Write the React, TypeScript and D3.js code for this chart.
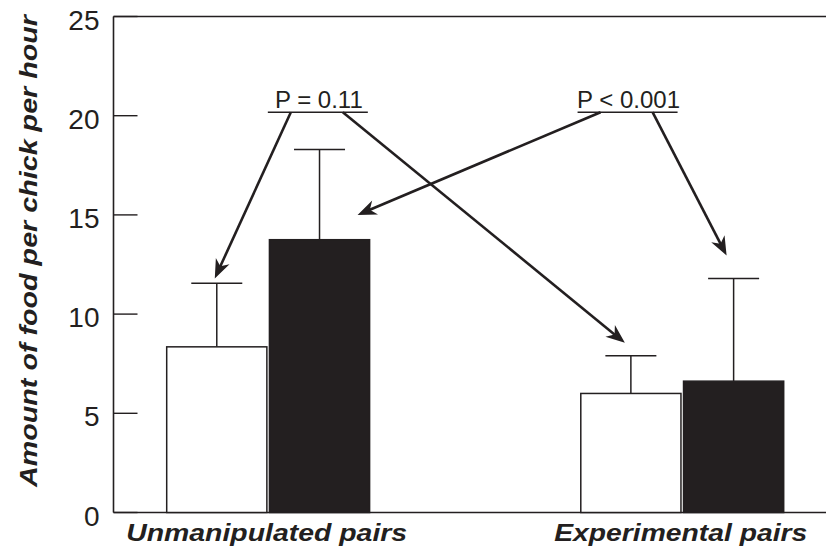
import React from 'react';
import { scaleBand, scaleLinear } from 'd3';

// pair types on the x axis, two bars per pair type
const groups = ['Unmanipulated pairs', 'Experimental pairs'];
const series = ['open', 'filled'];
// mean food per chick per hour
const means = [
    [8.35, 13.75],
    [6.0, 6.62],
];
// upper error bar ends
const errTops = [
    [11.55, 18.3],
    [7.9, 11.8],
];
const yTicks = [0, 5, 10, 15, 20, 25];

// significance labels, with the bars each arrow points at
// target value is in data units, dx is a fraction of the bar width
const annotations = [
    {
        label: 'P = 0.11',
        arrows: [
            { g: 0, s: 0, value: 11.8, dx: -0.02 },
            { g: 1, s: 0, value: 8.55, dx: -0.06 },
        ],
    },
    {
        label: 'P < 0.001',
        arrows: [
            { g: 0, s: 1, value: 15.0, dx: 0.38 },
            { g: 1, s: 1, value: 12.95, dx: -0.07 },
        ],
    },
];
const annValue = 20.0; // level of the underlines

const W = 826;
const H = 554;
const ink = '#231f20';
const font = '"Liberation Sans", Arial, Helvetica, sans-serif';

function Arrow({ x1, y1, x2, y2 }) {
    const a = Math.atan2(y2 - y1, x2 - x1) * 180 / Math.PI;
    const L = 19;
    const hw = 7.5;
    return (
        <g>
            <line
                x1={x1}
                y1={y1}
                x2={x2 - L * 0.6 * Math.cos(a * Math.PI / 180)}
                y2={y2 - L * 0.6 * Math.sin(a * Math.PI / 180)}
                stroke={ink}
                strokeWidth={2.6}
            />
            <path
                transform={`translate(${x2},${y2}) rotate(${a})`}
                d={`M0,0 L${-L},${-hw} L${-L * 0.7},0 L${-L},${hw} Z`}
                fill={ink}
            />
        </g>
    );
}

export default function App() {
    const axisX = 113.5;
    const y = scaleLinear().domain([0, 25]).range([512.5, 16.5]);

    const x = scaleBand()
        .domain(groups)
        .range([166.7, 783.7])
        .paddingInner(0.51);
    const xs = scaleBand()
        .domain(series)
        .range([0, x.bandwidth()])
        .paddingInner(0.025);

    const barX = (g, s) => x(groups[g]) + xs(series[s]);
    const barMid = (g, s) => barX(g, s) + xs.bandwidth() / 2;
    const capHalf = 25.5;

    // underline spans for each annotation
    const annCenters = [
        (barMid(0, 0) + barMid(1, 0)) / 2 - 106,
        (barMid(0, 1) + barMid(1, 1)) / 2 + 101,
    ];

    return (
        <svg
            width={W}
            height={H}
            style={{ position: 'absolute', left: 0, top: 0, background: '#fff' }}
            fontFamily={font}
        >
            {/* frame: left axis, top line, baseline */}
            <line x1={axisX} y1={y(25)} x2={W} y2={y(25)} stroke={ink} strokeWidth={1.6} />
            <line x1={axisX} y1={y(0)} x2={W} y2={y(0)} stroke={ink} strokeWidth={1.6} />
            <line x1={axisX} y1={y(25)} x2={axisX} y2={y(0)} stroke={ink} strokeWidth={1.6} />

            {yTicks.map(t => (
                <g key={t}>
                    <line x1={axisX} x2={axisX + 24} y1={y(t)} y2={y(t)} stroke={ink} strokeWidth={1.4} />
                    <text
                        x={99.5}
                        y={y(t) + 13}
                        textAnchor="end"
                        fontSize={28}
                        fill={ink}
                    >
                        {t}
                    </text>
                </g>
            ))}

            {/* error bars */}
            {means.map((row, g) => row.map((m, s) => (
                <g key={`e${g}${s}`}>
                    <line
                        x1={barMid(g, s)}
                        x2={barMid(g, s)}
                        y1={y(m)}
                        y2={y(errTops[g][s])}
                        stroke={ink}
                        strokeWidth={1.5}
                    />
                    <line
                        x1={barMid(g, s) - capHalf}
                        x2={barMid(g, s) + capHalf}
                        y1={y(errTops[g][s])}
                        y2={y(errTops[g][s])}
                        stroke={ink}
                        strokeWidth={1.5}
                    />
                </g>
            )))}

            {/* bars */}
            {means.map((row, g) => row.map((m, s) => (
                <rect
                    key={`b${g}${s}`}
                    x={barX(g, s)}
                    y={y(m)}
                    width={xs.bandwidth()}
                    height={y(0) - y(m)}
                    fill={s === 0 ? '#fff' : ink}
                    stroke={ink}
                    strokeWidth={1.5}
                />
            )))}

            {/* significance annotations */}
            {annotations.map((a, i) => {
                const cx = annCenters[i];
                const yy = y(annValue) - 3.5;
                const half = 50;
                return (
                    <g key={a.label}>
                        <text
                            x={cx + 1}
                            y={yy - 4.5}
                            textAnchor="middle"
                            fontSize={24}
                            fill={ink}
                        >
                            {a.label}
                        </text>
                        <line x1={cx - half} x2={cx + half} y1={yy} y2={yy} stroke={ink} strokeWidth={1.5} />
                        {a.arrows.map((t, j) => (
                            <Arrow
                                key={j}
                                x1={j === 0 ? cx - 27 : cx + 25}
                                y1={yy}
                                x2={barMid(t.g, t.s) + t.dx * xs.bandwidth()}
                                y2={y(t.value)}
                            />
                        ))}
                    </g>
                );
            })}

            {/* category labels */}
            {groups.map((gname, g) => (
                <text
                    key={gname}
                    x={x(gname) + x.bandwidth() / 2 - 1.5}
                    y={541}
                    textAnchor="middle"
                    fontSize={24}
                    fontWeight="bold"
                    fontStyle="italic"
                    fill={ink}
                    textLength={g === 0 ? 281 : 253}
                    lengthAdjust="spacingAndGlyphs"
                >
                    {gname}
                </text>
            ))}

            <text
                transform={`translate(36.5,251) rotate(-90)`}
                textAnchor="middle"
                fontSize={24}
                fontWeight="bold"
                fontStyle="italic"
                fill={ink}
                textLength={472}
                lengthAdjust="spacingAndGlyphs"
            >
                Amount of food per chick per hour
            </text>
        </svg>
    );
}
